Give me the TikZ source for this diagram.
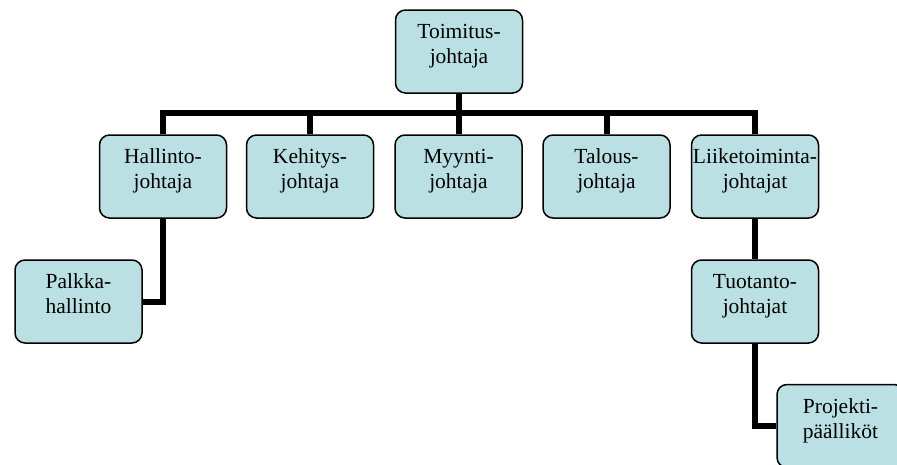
\documentclass[tikz,border=0pt]{standalone}
\usepackage{fontspec}
\setmainfont{Liberation Serif}
\definecolor{boxfill}{RGB}{187,224,227}
\newcommand\bxtext[1]{\parbox[c][83pt][t]{127pt}{\centering\fontsize{21.5pt}{25pt}\selectfont\vspace*{14pt}#1\par}}
\tikzset{
  orgbox/.style={draw=black, line width=1.5pt, fill=boxfill, rounded corners=10pt,
    minimum width=127pt, minimum height=83pt, inner sep=0pt},
  conn/.style={line width=6pt, line join=miter, black}
}
\begin{document}
\begin{tikzpicture}[x=1pt,y=-1pt]
\useasboundingbox (0,0) rectangle (897,464);
\clip (0,0) rectangle (897,464);
\coordinate (bar) at (0,113);
\node[orgbox] (top) at (459,51.5) {\bxtext{Toimitus-\\johtaja}};
\node[orgbox] (hal) at (163,176.5) {\bxtext{Hallinto-\\johtaja}};
\node[orgbox] (keh) at (310,176.5) {\bxtext{Kehitys-\\johtaja}};
\node[orgbox] (myy) at (458.5,176.5) {\bxtext{Myynti-\\johtaja}};
\node[orgbox] (tal) at (606.5,176.5) {\bxtext{Talous-\\johtaja}};
\node[orgbox] (lii) at (755,176.5) {\bxtext{Liiketoiminta-\\johtajat}};
\node[orgbox] (pal) at (78.5,301.5) {\bxtext{Palkka-\\hallinto}};
\node[orgbox] (tuo) at (755,301.5) {\bxtext{Tuotanto-\\johtajat}};
\node[orgbox] (pro) at (840.5,426) {\bxtext{Projekti-\\päälliköt}};
\draw[conn] (top.south) -- (top.south |- bar);
\draw[conn] (hal.north) -- (hal.north |- bar) -- (lii.north |- bar) -- (lii.north);
\draw[conn] (keh.north) -- (keh.north |- bar);
\draw[conn] (myy.north) -- (myy.north |- bar);
\draw[conn] (tal.north) -- (tal.north |- bar);
\draw[conn] (hal.south) |- (pal.east);
\draw[conn] (lii.south) -- (tuo.north);
\draw[conn] (tuo.south) |- (pro.west);
\end{tikzpicture}
\end{document}
